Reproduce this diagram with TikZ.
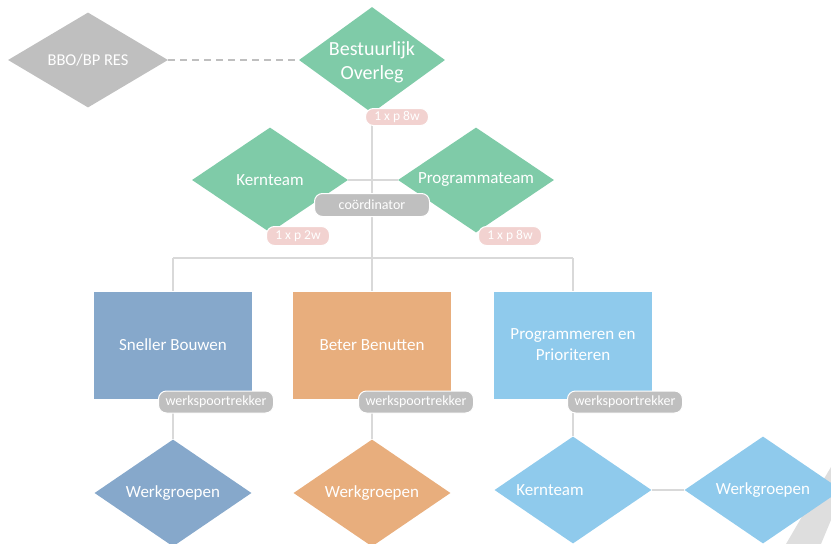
\documentclass[tikz,border=0pt]{standalone}
\usepackage{fontspec}
\setmainfont{Carlito}
\usetikzlibrary{shapes.geometric}
\pgfdeclarelayer{background}
\pgfsetlayers{background,main}
\definecolor{cgreen}{HTML}{7FCBA8}
\definecolor{cgrey}{HTML}{BFBFBF}
\definecolor{cblue}{HTML}{86A8CB}
\definecolor{corange}{HTML}{E8AE7D}
\definecolor{clight}{HTML}{8FCAEC}
\definecolor{cpink}{HTML}{F2D2D0}
\definecolor{cline}{HTML}{D9D9D9}
\definecolor{cshadow}{HTML}{DEDEDE}
\begin{document}
\begin{tikzpicture}[x=1pt,y=-1pt,
  dia/.style={diamond, aspect=1.5, inner sep=0pt, text=white, draw=none, align=center},
  bigdia/.style={dia, minimum width=157pt, minimum height=107pt},
  txt/.style={text=white, inner sep=0pt, align=center},
  boxnode/.style={rectangle, inner sep=0pt, text=white, draw=white, line width=0.6pt,
    align=center, minimum width=159pt, minimum height=108pt, font=\fontsize{17}{21}\selectfont},
  pill/.style={rectangle, rounded corners=8pt, draw=white, line width=1pt, inner sep=0pt,
    text=white, font=\fontsize{14}{16}\selectfont},
  pinkpill/.style={pill, fill=cpink, minimum width=63pt, minimum height=18pt, font=\fontsize{13.5}{16}\selectfont},
  greypill/.style={pill, fill=cgrey, minimum width=115pt, minimum height=22pt},
  conn/.style={draw=cline, line width=1.2pt}]
\useasboundingbox (0,0) rectangle (831,544);
% shadow shape at bottom right
\fill[cshadow] (828,472) -- (831,467) -- (831,520) -- (821,544) -- (786,544) -- cycle;
% top
\node[dia, fill=cgrey, minimum width=160pt, minimum height=95pt, font=\fontsize{16.5}{19}\selectfont] (bbo) at (88,60) {BBO/BP RES};
\node[dia, fill=cgreen, minimum width=146pt, minimum height=106pt] (bo) at (372,60) {};
\node[txt, font=\fontsize{20}{24}\selectfont] (bot) at (372,62) {Bestuurlijk\\Overleg};
\node[pinkpill, minimum height=17pt] (p1) at (397,117) {1 x p 8w};
% second row
\node[dia, fill=cgreen, minimum width=156pt, minimum height=105pt, font=\fontsize{17}{20}\selectfont] (kt) at (270,180) {Kernteam};
\node[dia, fill=cgreen, minimum width=156pt, minimum height=105pt, font=\fontsize{17}{20}\selectfont] (pt) at (476,180) {Programmateam};
\node[greypill, minimum height=23pt] (coord) at (372,205) {coördinator};
\node[pinkpill, minimum height=19pt] (p2) at (298,236) {1 x p 2w};
\node[pinkpill, minimum height=19pt] (p3) at (510,236) {1 x p 8w};
% bus
\coordinate (bus) at (372,258);
\coordinate (busL) at (173,258);
\coordinate (busR) at (573,258);
% boxes
\node[boxnode, fill=cblue] (sb) at (173,345) {Sneller Bouwen};
\node[boxnode, fill=corange] (bb) at (372,345) {Beter Benutten};
\node[boxnode, fill=clight] (pp) at (573,345) {};
\node[txt, font=\fontsize{17}{21}\selectfont] (ppt) at (573,345) {Programmeren en\\Prioriteren};
\node[greypill] (w1) at (216,402) {werkspoortrekker};
\node[greypill] (w2) at (416,402) {werkspoortrekker};
\node[greypill] (w3) at (625,402) {werkspoortrekker};
% bottom
\node[bigdia, fill=cblue, font=\fontsize{17}{20}\selectfont] (wg1) at (173,493) {Werkgroepen};
\node[bigdia, fill=corange, font=\fontsize{17}{20}\selectfont] (wg2) at (372,493) {Werkgroepen};
\node[bigdia, fill=clight] (kt2) at (573,490) {};
\node[txt, font=\fontsize{17}{20}\selectfont] (kt2t) at (550,490) {Kernteam};
\node[bigdia, fill=clight, font=\fontsize{17}{20}\selectfont] (wg3) at (763,490) {Werkgroepen};
% connectors
\begin{pgfonlayer}{background}
\draw[draw=cgrey, line width=1.2pt, dash pattern=on 7pt off 5pt] (bbo.east) -- (bo.west);
\draw[conn] (bo.south) -- (bus);
\draw[conn] (kt.east) -- (pt.west);
\draw[conn] (busL) -- (busR);
\draw[conn] (busL) -- (sb.north);
\draw[conn] (bus) -- (bb.north);
\draw[conn] (busR) -- (pp.north);
\draw[conn] (sb.south) -- (wg1.north);
\draw[conn] (bb.south) -- (wg2.north);
\draw[conn] (pp.south) -- (kt2.north);
\draw[conn] (kt2.east) -- (wg3.west);
\end{pgfonlayer}
\end{tikzpicture}
\end{document}
